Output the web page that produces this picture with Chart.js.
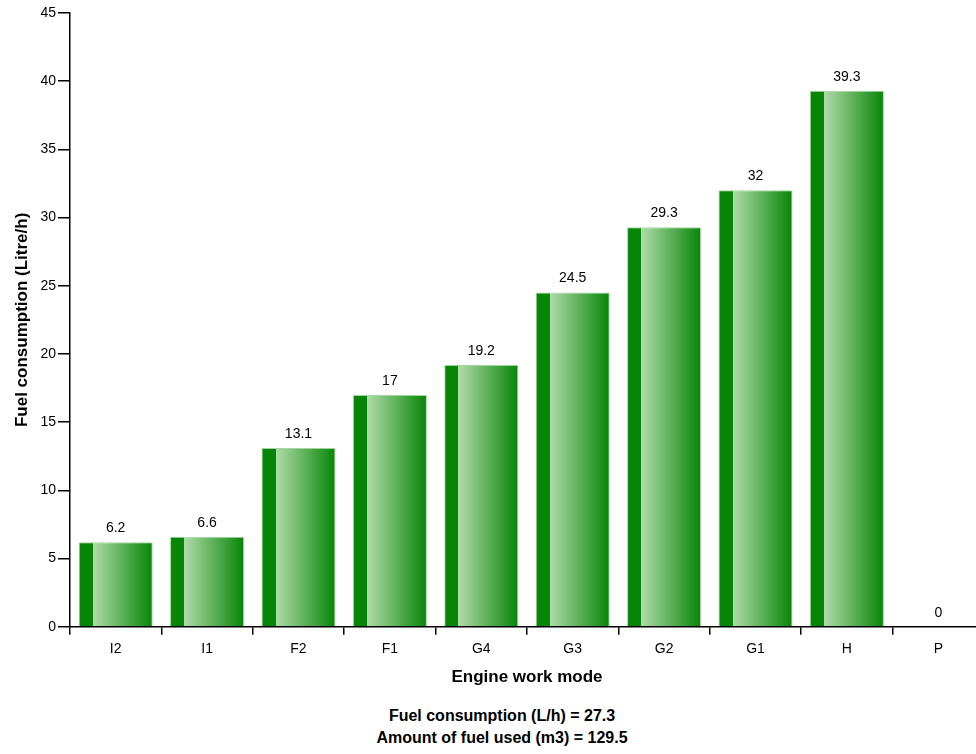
<!DOCTYPE html>
<html>
<head>
<meta charset="utf-8">
<script src="https://cdn.jsdelivr.net/npm/chart.js@4/dist/chart.umd.min.js"></script>
<style>
  html, body { margin: 0; padding: 0; background: #fff; overflow: hidden; }
  #wrap { position: relative; width: 976px; height: 754px; overflow: hidden; }
  #note {
    position: absolute; left: 0; top: 705px; width: 1004px; text-align: center;
    font: bold 16px "Liberation Sans", Arial, sans-serif; line-height: 22px; color: #000;
  }
</style>
</head>
<body>
<div id="wrap">
  <canvas id="myChart" width="984" height="692"></canvas>
  <div id="note">Fuel consumption (L/h) = 27.3<br>Amount of fuel used (m3) = 129.5</div>
</div>
<script>
// 데이터
const modes = ['I2', 'I1', 'F2', 'F1', 'G4', 'G3', 'G2', 'G1', 'H', 'P'];
const fuel = [6.2, 6.6, 13.1, 17, 19.2, 24.5, 29.3, 32, 39.3, 0];
const yTicks = [0, 5, 10, 15, 20, 25, 30, 35, 40, 45];

const ctx = document.getElementById('myChart').getContext('2d');
const FONT = '"Liberation Sans", Arial, sans-serif';
const BAR_PCT = 0.81;

// 막대 그라데이션: x 스케일에서 막대 위치 계산
function barFill(context) {
    const chart = context.chart;
    const xs = chart.scales && chart.scales.x;
    if (!xs || !xs.width || context.dataIndex === undefined) return '#078507';
    const cx = xs.getPixelForValue(context.dataIndex);
    const w = (xs.width / modes.length) * BAR_PCT;
    const left = cx - w / 2;
    const g = chart.ctx.createLinearGradient(left, 0, left + w, 0);
    g.addColorStop(0, '#078507');
    g.addColorStop(0.19, '#078507');
    g.addColorStop(0.19, '#b0dba9');
    g.addColorStop(1, '#078507');
    return g;
}

// 값 라벨
const valueLabels = {
    id: 'valueLabels',
    afterDatasetsDraw(chart) {
        const c = chart.ctx;
        const meta = chart.getDatasetMeta(0);
        c.save();
        c.font = '14px ' + FONT;
        c.fillStyle = '#000';
        c.textAlign = 'center';
        c.textBaseline = 'bottom';
        meta.data.forEach((bar, i) => {
            c.fillText(String(fuel[i]), bar.x, bar.y - 7);
        });
        c.restore();
    }
};

const chart = new Chart(ctx, {
    type: 'bar',
    data: {
        labels: modes,
        datasets: [{
            label: 'Fuel consumption',
            data: fuel,
            backgroundColor: barFill,
            borderColor: '#a3d69d',
            borderWidth: 1,
            barPercentage: BAR_PCT,
            categoryPercentage: 1
        }]
    },
    options: {
        responsive: false,
        animation: false,
        devicePixelRatio: 1,
        layout: { padding: { top: 13, left: 8, right: 0, bottom: 0 } },
        plugins: {
            legend: { display: false },
            tooltip: { enabled: false }
        },
        scales: {
            x: {
                offset: true,
                border: { color: '#000', width: 1.5 },
                grid: { offset: true, drawOnChartArea: false, color: '#000', tickLength: 8, lineWidth: 1.5 },
                ticks: { color: '#000', font: { size: 14, family: FONT }, padding: 6 },
                title: {
                    display: true, text: 'Engine work mode', color: '#000',
                    font: { size: 17, weight: 'bold', family: FONT },
                    padding: { top: 4 }
                }
            },
            y: {
                min: 0, max: 45,
                afterBuildTicks(axis) { axis.ticks = yTicks.map(v => ({ value: v })); },
                border: { color: '#000', width: 1.5 },
                grid: { drawOnChartArea: false, color: '#000', tickLength: 12, lineWidth: 1.5 },
                ticks: { color: '#000', font: { size: 14, family: FONT }, padding: 2 },
                title: {
                    display: true, text: 'Fuel consumption (Litre/h)', color: '#000',
                    font: { size: 17, weight: 'bold', family: FONT },
                    padding: { bottom: 6 }
                }
            }
        }
    },
    plugins: [valueLabels]
});
</script>
</body>
</html>
